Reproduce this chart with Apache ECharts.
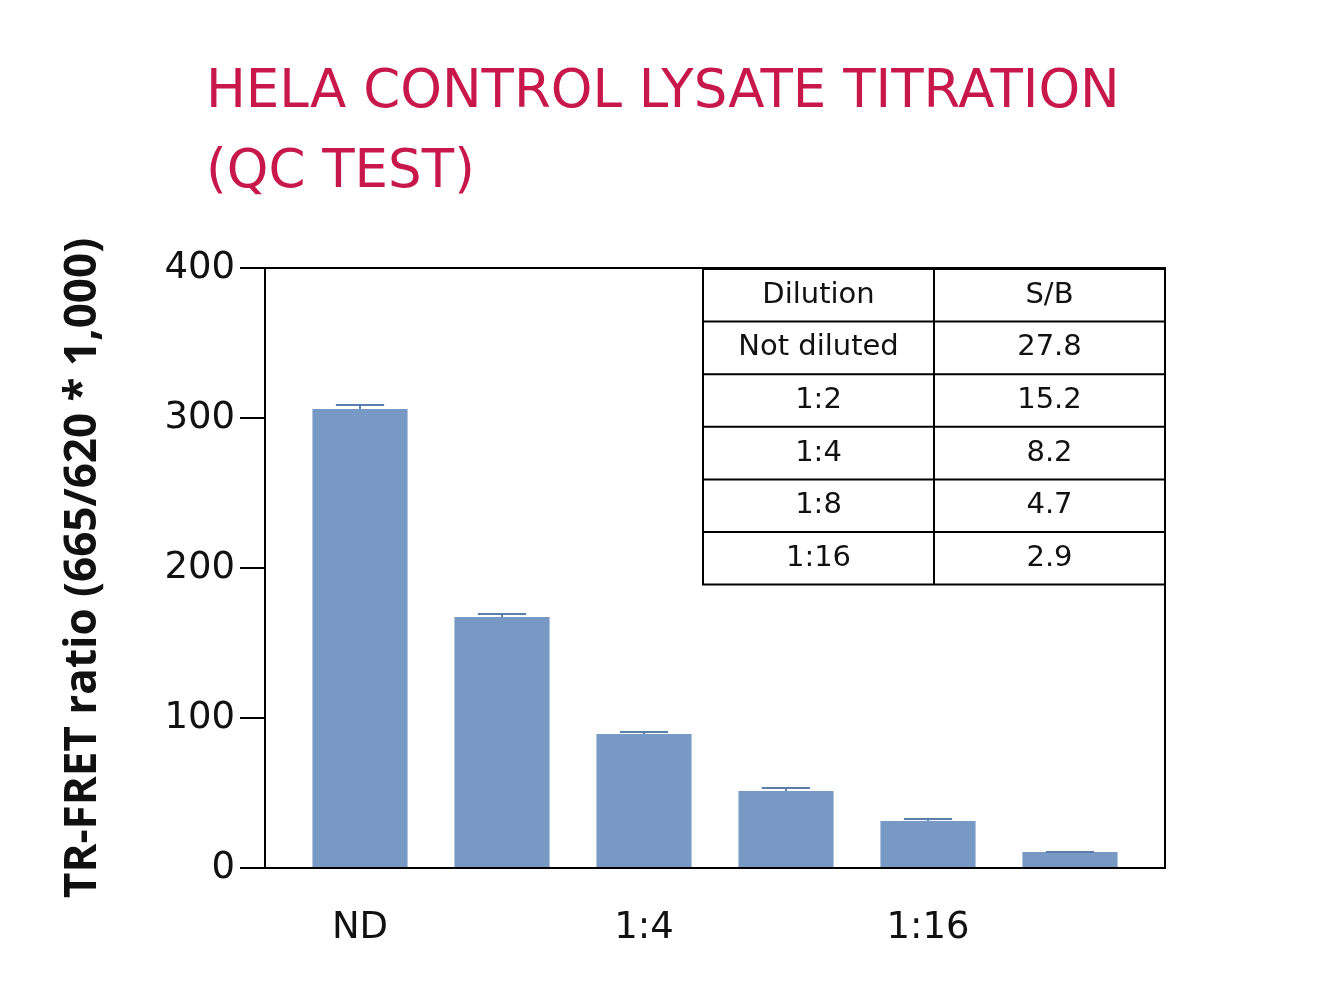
<!DOCTYPE html>
<html style="height: 100%">
<head>
    <meta charset="utf-8">
    <title>HeLa control lysate titration</title>
</head>
<body style="height: 100%; margin: 0; background: #fff;">
    <div id="container" style="width: 1319px; height: 985px"></div>
    <script src="https://cdn.jsdelivr.net/npm/echarts@6/dist/echarts.min.js"></script>
    <script type="text/javascript">
        // chart data
        var categories = ['ND', '1:2', '1:4', '1:8', '1:16', 'Buffer'];
        var ratioValues = [306, 167.3, 89.3, 51.3, 31.3, 10.7];
        var errorTops = [308.7, 169.3, 90.7, 53.3, 32.7, 10.7];
        var yTicks = [0, 100, 200, 300, 400];

        // inset table
        var tableHeader = ['Dilution', 'S/B'];
        var tableDilutions = ['Not diluted', '1:2', '1:4', '1:8', '1:16'];
        var tableSB = ['27.8', '15.2', '8.2', '4.7', '2.9'];

        var font = 'DejaVu Sans';
        var dom = document.getElementById('container');
        var myChart = echarts.init(dom);

        // outer plot frame (axes box spans 265..1165 x 268..868)
        var frame = {
            type: 'rect', shape: { x: 265, y: 268, width: 900, height: 600 },
            style: { fill: 'none', stroke: '#000', lineWidth: 2 }, z: 9
        };

        // table drawn with graphic elements
        var tx = 703, ty = 269, tw = 462, rowH = 52.6, colX = 934;
        var rows = [tableHeader].concat(tableDilutions.map(function (d, i) { return [d, tableSB[i]]; }));
        var tableEls = [frame, {
            type: 'rect', shape: { x: tx, y: ty, width: tw, height: rowH * rows.length },
            style: { fill: '#fff', stroke: '#000', lineWidth: 2 }, z: 10
        }, {
            type: 'line', shape: { x1: colX, y1: ty, x2: colX, y2: ty + rowH * rows.length },
            style: { stroke: '#000', lineWidth: 2 }, z: 11
        }];
        rows.forEach(function (r, i) {
            if (i > 0) {
                tableEls.push({ type: 'line', shape: { x1: tx, y1: ty + rowH * i, x2: tx + tw, y2: ty + rowH * i },
                    style: { stroke: '#000', lineWidth: 2 }, z: 11 });
            }
            [[r[0], (tx + colX) / 2], [r[1], (colX + tx + tw) / 2]].forEach(function (c) {
                tableEls.push({ type: 'text', x: c[1], y: ty + rowH * (i + 0.5), z: 12,
                    style: { text: c[0], fontFamily: font, fontSize: 29, fill: '#111', align: 'center', verticalAlign: 'middle' } });
            });
        });

        var option = {
            animation: false,
            title: {
                text: 'HELA CONTROL LYSATE TITRATION\n(QC TEST)',
                left: 201, top: 48,
                textStyle: { fontFamily: font, fontWeight: 'normal', fontSize: 53, color: '#c8174b', lineHeight: 80 }
            },
            grid: { left: 289, top: 268, width: 852, height: 600 },
            xAxis: {
                type: 'category', data: categories,
                axisLine: { lineStyle: { color: '#000', width: 2 } },
                axisTick: { alignWithLabel: true, length: 22, lineStyle: { color: '#000', width: 2 } },
                axisLabel: { color: '#111', fontFamily: font, fontSize: 37, margin: 42 }
            },
            yAxis: {
                type: 'value', min: 0, max: 400, interval: 100, offset: 24,
                name: 'TR-FRET ratio (665/620 * 1,000)', nameLocation: 'middle', nameGap: 160,
                nameTextStyle: { fontFamily: 'Open Sans', fontWeight: 'bold', fontSize: 44, color: '#111' },
                axisLine: { show: true, lineStyle: { color: '#000', width: 2 } },
                axisTick: { show: true, length: 25, lineStyle: { color: '#000', width: 2 } },
                axisLabel: { color: '#111', fontFamily: font, fontSize: 37, margin: 30,
                    formatter: function (v) { return yTicks.indexOf(v) >= 0 ? v : ''; } },
                splitLine: { show: false }
            },
            series: [{
                type: 'bar', data: ratioValues, barWidth: '67%',
                itemStyle: { color: '#7799c4' }
            }, {
                type: 'custom', z: 5,
                data: errorTops.map(function (e, i) { return [i, ratioValues[i], e]; }),
                renderItem: function (params, api) {
                    var lo = api.coord([api.value(0), api.value(1)]);
                    var hi = api.coord([api.value(0), api.value(2)]);
                    var hw = api.size([1, 0])[0] * 0.17;
                    var st = { stroke: '#5b7fad', lineWidth: 2 };
                    return { type: 'group', children: [
                        { type: 'line', shape: { x1: lo[0], y1: lo[1], x2: hi[0], y2: hi[1] }, style: st },
                        { type: 'line', shape: { x1: hi[0] - hw, y1: hi[1], x2: hi[0] + hw, y2: hi[1] }, style: st }
                    ] };
                }
            }],
            graphic: tableEls
        };
        myChart.setOption(option, true);
    </script>
</body>
</html>
